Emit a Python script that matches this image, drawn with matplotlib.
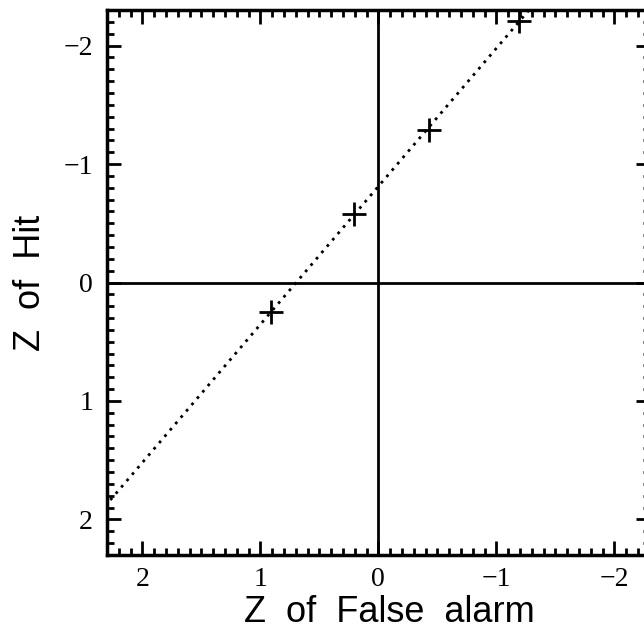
import numpy as np
import matplotlib
matplotlib.use('Agg')
import matplotlib.pyplot as plt
from matplotlib.ticker import MultipleLocator

# z-scores
z_fa = [0.91, 0.21, -0.43, -1.19]
z_hit = [0.25, -0.58, -1.29, -2.21]
x_ticks = [2, 1, 0, -1, -2]
y_ticks = [-2, -1, 0, 1, 2]

fig = plt.figure(figsize=(6.44, 6.32), dpi=100)
# l'axe depasse a droite, comme sur l'original
ax = fig.add_axes([0.166, 0.122, 0.843, 0.862])

# droite d'ajustement
a, b = np.polyfit(z_fa, z_hit, 1)
xl = np.array([2.5, -1.5])
ax.plot(xl, a * xl + b, color='black', linestyle=(0, (1, 2)), linewidth=2)

ax.plot(z_fa, z_hit, linestyle='none', marker='+', markersize=17,
        markeredgewidth=2, color='black')

ax.axhline(0, color='black', linewidth=2)
ax.axvline(0, color='black', linewidth=2)

ax.set_xlim(2.3, -2.3)
ax.set_ylim(2.3, -2.3)
ax.set_xticks(x_ticks)
ax.set_yticks(y_ticks)
ax.xaxis.set_minor_locator(MultipleLocator(0.1))
ax.yaxis.set_minor_locator(MultipleLocator(0.1))
ax.tick_params(which='both', direction='in', top=True, right=True, width=2)
ax.tick_params(which='major', length=10)
ax.tick_params(which='minor', length=5)
ax.tick_params(axis='x', which='major', pad=9)
ax.tick_params(axis='y', which='major', pad=10)
for sp in ax.spines.values():
    sp.set_linewidth(2.5)

for lab in ax.get_xticklabels() + ax.get_yticklabels():
    lab.set_family('Liberation Serif')
    lab.set_fontsize(20)

ax.set_xlabel('Z  of  False  alarm', family='Liberation Sans', fontsize=26)
ax.set_ylabel('Z  of  Hit', family='Liberation Sans', fontsize=26, labelpad=11)
ax.xaxis.set_label_coords(0.52, -0.073, transform=ax.transAxes)
ax.xaxis.label.set_va('top')

fig.savefig('out.png', dpi=100)
